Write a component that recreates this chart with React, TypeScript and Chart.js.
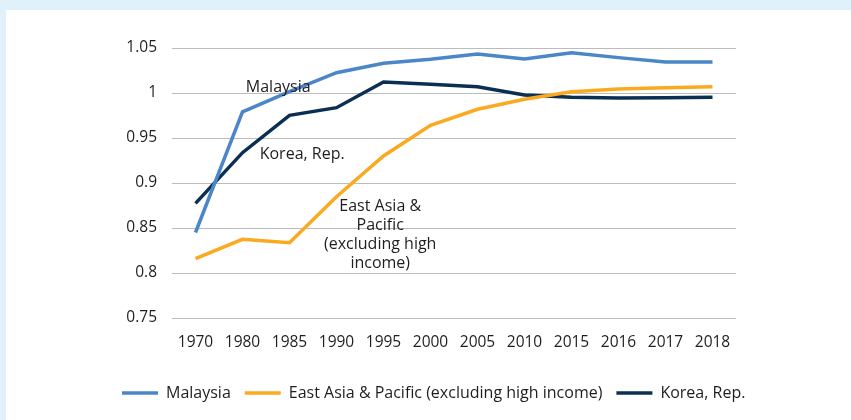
import React, { useEffect, useRef } from "react";
import { Chart, registerables } from "chart.js";
Chart.register(...registerables);

const years = ["1970", "1980", "1985", "1990", "1995", "2000", "2005", "2010", "2015", "2016", "2017", "2018"];
const malaysia = [0.845, 0.979, 1.0015, 1.0226, 1.033, 1.0374, 1.0433, 1.0378, 1.0448, 1.0393, 1.0345, 1.0345];
const eastAsia = [0.816, 0.8374, 0.8337, 0.8848, 0.93, 0.964, 0.9819, 0.993, 1.0015, 1.0044, 1.0059, 1.007];
const korea = [0.8774, 0.9337, 0.9752, 0.9837, 1.0122, 1.0096, 1.007, 0.9978, 0.9952, 0.9944, 0.9948, 0.9952];

const seriesNames = ["Malaysia", "East Asia & Pacific (excluding high income)", "Korea, Rep."];
const seriesColors = ["#4a86c8", "#fbaa1f", "#0b2f52"];

const yMin = 0.75;
const yMax = 1.05;
const yStep = 0.05;

// in-plot labels: category index (fractional) and value of the first line's centre
const labelTexts = [["Malaysia"], ["Korea, Rep."], ["East Asia &", "Pacific", "(excluding high", "income)"]];
const labelX = [1.76, 2.27, 3.93];
const labelY = [1.0067, 0.9322, 0.8737];

const FONT = "'Open Sans', Lato, sans-serif";
const TEXT = "#1e1e1e";

const labelPlugin = {
  id: "inPlotLabels",
  afterDatasetsDraw(chart: any) {
    const { ctx, scales } = chart;
    const xs = scales.x;
    const ys = scales.y;
    ctx.save();
    ctx.font = `16px ${FONT}`;
    ctx.fillStyle = TEXT;
    ctx.textAlign = "center";
    ctx.textBaseline = "middle";
    labelTexts.forEach((lines, i) => {
      const px = xs.getPixelForValue(labelX[i]);
      const py = ys.getPixelForValue(labelY[i]);
      lines.forEach((ln, j) => ctx.fillText(ln, px, py + j * 18.9));
    });
    ctx.restore();
  },
};

export default function App() {
  const ref = useRef<HTMLCanvasElement | null>(null);
  useEffect(() => {
    if (!ref.current) return;
    const data = [malaysia, eastAsia, korea];
    const chart = new Chart(ref.current, {
      type: "line",
      data: {
        labels: years,
        datasets: data.map((d, i) => ({
          label: seriesNames[i],
          data: d,
          borderColor: seriesColors[i],
          backgroundColor: seriesColors[i],
          borderWidth: 3.5,
          pointRadius: 0,
          tension: 0,
        })),
      },
      options: {
        animation: false,
        responsive: true,
        maintainAspectRatio: false,
        layout: { padding: { left: 102, right: 5, top: 38, bottom: 9 } },
        plugins: {
          tooltip: { enabled: false },
          legend: {
            position: "bottom",
            align: "start",
            labels: {
              usePointStyle: true,
              pointStyle: "line",
              pointStyleWidth: 36,
              boxHeight: 16,
              padding: 14,
              color: TEXT,
              font: { family: FONT, size: 16 },
            },
          },
        },
        scales: {
          x: {
            offset: true,
            grid: { display: false },
            border: { display: false },
            ticks: { color: TEXT, font: { family: FONT, size: 15.5 }, padding: 7, maxRotation: 0, autoSkip: false },
            afterFit: (s: any) => { s.height = 53; },
          },
          y: {
            min: yMin,
            max: yMax,
            grid: { color: "#bcbcbc", lineWidth: 1, drawTicks: false },
            border: { display: false },
            ticks: {
              stepSize: yStep,
              color: TEXT,
              font: { family: FONT, size: 15.5 },
              padding: 15,
              callback: (v: any) => String(Math.round(Number(v) * 100) / 100),
            },
            afterFit: (s: any) => { s.width = 64; },
          },
          rightSpace: {
            type: "linear",
            position: "right",
            display: true,
            grid: { display: false },
            border: { display: false },
            ticks: { display: false },
            afterFit: (s: any) => { s.width = 110; },
          },
        },
      },
      plugins: [labelPlugin],
    });
    return () => chart.destroy();
  }, []);

  return (
    <div style={{ position: "fixed", left: 0, top: 0, width: 851, height: 420, background: "#e0f1fb", overflow: "hidden" }}>
      <div style={{ position: "absolute", left: 6, top: 10, width: 845, height: 410, background: "#ffffff" }}>
        <canvas ref={ref} />
      </div>
    </div>
  );
}
